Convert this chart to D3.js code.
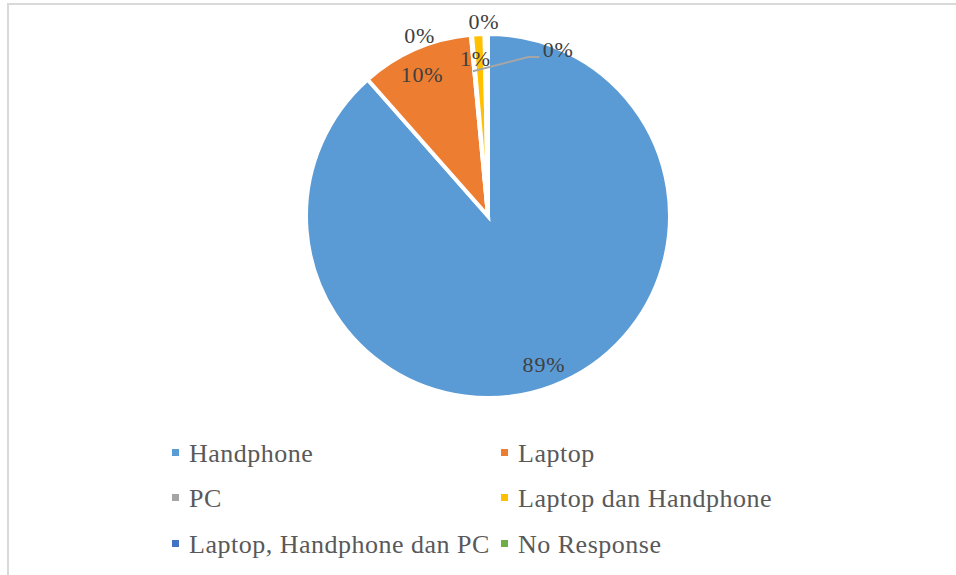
<!DOCTYPE html>
<html>
<head>
<meta charset="utf-8">
<script src="https://cdn.jsdelivr.net/npm/d3@7"></script>
<style>
  html, body { margin: 0; padding: 0; background: #fff; }
  svg { display: block; }
  text { font-family: "Palatino Linotype", "Book Antiqua", Palatino, "Liberation Serif", serif; }
</style>
</head>
<body>
<svg id="chart" width="956" height="575"></svg>
<script>
// ---- data ----
const categories = ["Handphone", "Laptop", "PC", "Laptop dan Handphone", "Laptop, Handphone dan PC", "No Response"];
const values = [88.5, 10.0, 0.1, 1.1, 0.2, 0.1];          // estimated shares (%)
const percentLabels = ["89%", "10%", "0%", "1%", "0%", "0%"];
const colors = ["#5b9bd5", "#ed7d31", "#a5a5a5", "#ffc000", "#4472c4", "#70ad47"];

// ---- layout ----
const cx = 488, cy = 216, R = 182;
const svg = d3.select("#chart");

// frame (cropped chart area border)
svg.append("rect")
  .attr("x", 8).attr("y", 4).attr("width", 1200).attr("height", 1200)
  .attr("fill", "none").attr("stroke", "#d9d9d9").attr("stroke-width", 2);

const pie = d3.pie().sort(null).value(d => d).startAngle(0).endAngle(2 * Math.PI);
const arcs = pie(values);
const arc = d3.arc().innerRadius(0).outerRadius(R);

const g = svg.append("g").attr("transform", `translate(${cx},${cy})`);

g.selectAll("path.slice")
  .data(arcs)
  .join("path")
  .attr("class", "slice")
  .attr("d", arc)
  .attr("fill", (d, i) => colors[i])
  .attr("stroke", "#fff")
  .attr("stroke-width", 4)
  .attr("stroke-linejoin", "miter");

// label placement (Excel "best fit"): angle offset (deg) from slice bisector, radius factor
const labelPlacement = [
  { da: 0, rf: 0.87 },
  { da: -1.5, rf: 0.86 },
  { da: -15.5, rf: 1.06 },
  { da: -1.5, rf: 0.87 },
  { da: -0.5, rf: 1.07 },
  { da: 23, rf: 0.995 }
];
const polar = (ang, r) => [r * Math.sin(ang), -r * Math.cos(ang)];
const toRad = d => d * Math.PI / 180;

arcs.forEach((a, i) => {
  const mid = (a.startAngle + a.endAngle) / 2 + toRad(labelPlacement[i].da);
  const [x, y] = polar(mid, R * labelPlacement[i].rf);
  g.append("text")
    .attr("x", x).attr("y", y)
    .attr("text-anchor", "middle")
    .attr("dominant-baseline", "central")
    .attr("font-size", 22)
    .attr("letter-spacing", 0.8)
    .attr("fill", "#404040")
    .text(percentLabels[i]);
});

// leader line for the "No Response" label
(function () {
  const a = arcs[5];
  const mid = (a.startAngle + a.endAngle) / 2;
  const start = polar(mid - toRad(5.8), R * 0.8);
  const lab = polar(mid + toRad(labelPlacement[5].da), R * labelPlacement[5].rf);
  const elbow = [lab[0] - 30, lab[1] + 8];
  const end = [lab[0] - 19, lab[1] + 8];
  g.append("path")
    .attr("d", d3.line()([start, elbow, end]))
    .attr("fill", "none")
    .attr("stroke", "#a6a6a6")
    .attr("stroke-width", 2);
})();

// ---- legend ----
const legendCols = [172, 501];
const legendRows = [453, 498, 544];
const legend = svg.append("g");
categories.forEach((c, i) => {
  const x = legendCols[i % 2], y = legendRows[Math.floor(i / 2)];
  legend.append("rect")
    .attr("x", x).attr("y", y - 4).attr("width", 7).attr("height", 7)
    .attr("fill", colors[i]);
  legend.append("text")
    .attr("x", x + 17).attr("y", y)
    .attr("dominant-baseline", "central")
    .attr("font-size", 26)
    .attr("letter-spacing", 0.5)
    .attr("fill", "#595959")
    .text(c);
});
</script>
</body>
</html>
